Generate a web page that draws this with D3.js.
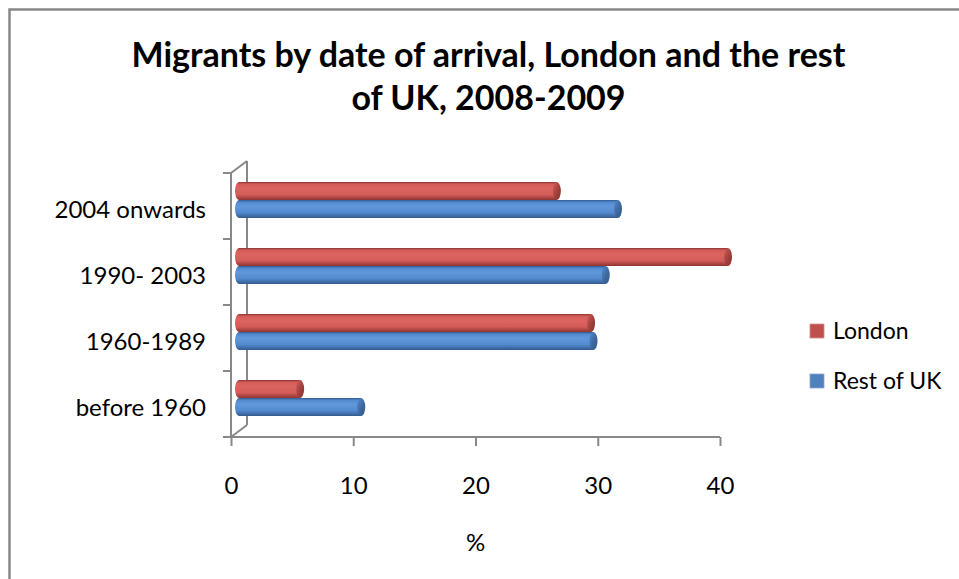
<!DOCTYPE html>
<html>
<head>
<meta charset="utf-8">
<script src="https://cdn.jsdelivr.net/npm/d3@7"></script>
<style>
  html, body { margin: 0; padding: 0; background: #ffffff; }
  svg { display: block; }
  text { font-family: Lato, "Open Sans", sans-serif; fill: #000; }
</style>
</head>
<body>
<svg id="chart" width="959" height="579"></svg>
<script>
// ---- data ----
const categories = ["2004 onwards", "1990- 2003", "1960-1989", "before 1960"];
const seriesNames = ["London", "Rest of UK"];
const londonValues = [26, 40, 28.8, 5];
const restOfUKValues = [31, 30, 29, 10];
const xTickValues = [0, 10, 20, 30, 40];
const titleLines = ["Migrants by date of arrival, London and the rest", "of UK, 2008-2009"];
const xAxisTitle = "%";

// ---- layout ----
const W = 959, H = 579;
const plotLeft = 231, plotRight = 720, plotTop = 173, plotBottom = 437;
const depthX = 16, depthY = -12;
const barH = 18;
const axisColor = "#888888";

const palette = {
  "London": { light: "#dc6562", mid: "#d35c59", dark: "#8e3533", cap: "#9c3d3a" },
  "Rest of UK": { light: "#6298db", mid: "#5389cf", dark: "#335a8d", cap: "#3c6599" }
};

const svg = d3.select("#chart");
svg.append("rect").attr("width", W).attr("height", H).attr("fill", "#fff");
// outer chart border (right/bottom off-canvas)
svg.append("rect")
  .attr("x", 9.5).attr("y", 9.5).attr("width", W + 20).attr("height", H + 20)
  .attr("fill", "none").attr("stroke", "#888").attr("stroke-width", 2.5);

const defs = svg.append("defs");
seriesNames.forEach((s, i) => {
  const c = palette[s];
  const g = defs.append("linearGradient").attr("id", "body" + i)
    .attr("x1", 0).attr("y1", 0).attr("x2", 0).attr("y2", 1);
  g.append("stop").attr("offset", "0%").attr("stop-color", c.dark);
  g.append("stop").attr("offset", "12%").attr("stop-color", c.mid);
  g.append("stop").attr("offset", "35%").attr("stop-color", c.light);
  g.append("stop").attr("offset", "70%").attr("stop-color", c.mid);
  g.append("stop").attr("offset", "100%").attr("stop-color", c.dark);
  const cg = defs.append("linearGradient").attr("id", "cap" + i)
    .attr("x1", 0).attr("y1", 0).attr("x2", 1).attr("y2", 1);
  cg.append("stop").attr("offset", "0%").attr("stop-color", c.mid);
  cg.append("stop").attr("offset", "60%").attr("stop-color", c.cap);
  cg.append("stop").attr("offset", "100%").attr("stop-color", c.dark);
});

// ---- scales ----
const x = d3.scaleLinear().domain([0, 40]).range([plotLeft, plotRight]);
const y = d3.scaleBand().domain(categories).range([plotTop, plotBottom]).paddingInner(0).paddingOuter(0);
const ySeries = d3.scaleBand().domain(seriesNames).range([-barH, barH]);

// ---- title ----
const title = svg.append("g");
titleLines.forEach((t, i) => {
  title.append("text")
    .attr("x", 488.5).attr("y", 67 + i * 43)
    .attr("text-anchor", "middle")
    .attr("font-weight", 700)
    .attr("font-size", 34)
    .text(t);
});

// ---- walls / axes lines ----
const walls = svg.append("g").attr("stroke", axisColor).attr("stroke-width", 2).attr("fill", "none");
// back vertical line
walls.append("line").attr("x1", plotLeft + depthX).attr("y1", plotTop + depthY)
  .attr("x2", plotLeft + depthX).attr("y2", plotBottom + depthY);
// top diagonal
walls.append("line").attr("x1", plotLeft).attr("y1", plotTop)
  .attr("x2", plotLeft + depthX).attr("y2", plotTop + depthY);
// bottom diagonal
walls.append("line").attr("x1", plotLeft).attr("y1", plotBottom)
  .attr("x2", plotLeft + depthX).attr("y2", plotBottom + depthY);
// front vertical axis
walls.append("line").attr("x1", plotLeft).attr("y1", plotTop)
  .attr("x2", plotLeft).attr("y2", plotBottom);
// category boundary ticks
const boundaries = categories.map(c => y(c)).concat([plotBottom]);
walls.selectAll("line.ytick").data(boundaries).join("line")
  .attr("class", "ytick")
  .attr("x1", plotLeft - 8).attr("x2", plotLeft)
  .attr("y1", d => d).attr("y2", d => d);

// ---- x axis ----
const xAxis = d3.axisBottom(x).tickValues(xTickValues).tickSize(9).tickSizeOuter(0).tickFormat(d3.format("d"));
const gx = svg.append("g").attr("transform", `translate(0,${plotBottom})`).call(xAxis);
gx.select(".domain").attr("stroke", axisColor).attr("stroke-width", 2)
  .attr("d", `M${plotLeft - 8},0H${plotRight}`);
gx.selectAll(".tick line").attr("stroke", axisColor).attr("stroke-width", 2);
gx.selectAll(".tick text").attr("y", 57).attr("dy", 0)
  .attr("font-size", 24).attr("font-family", "Lato, sans-serif").attr("fill", "#000");

svg.append("text").attr("x", (x(0) + x(40)) / 2).attr("y", 551)
  .attr("text-anchor", "middle").attr("font-size", 24).text(xAxisTitle);

// ---- category labels ----
const yAxis = d3.axisLeft(y).tickSize(0).tickPadding(0);
const gy = svg.append("g").attr("transform", `translate(206,4)`).call(yAxis);
gy.select(".domain").remove();
gy.selectAll(".tick text").attr("font-size", 24).attr("font-family", "Lato, sans-serif")
  .attr("fill", "#000").attr("dy", "0.32em");

// ---- bars (cylinders at mid depth) ----
const midX = depthX / 2, midY = depthY / 2;
const rows = [];
categories.forEach((c, ci) => {
  [londonValues[ci], restOfUKValues[ci]].forEach((v, si) => {
    rows.push({ cat: c, series: seriesNames[si], si, value: v });
  });
});
const capRx = 4;
const bars = svg.append("g").selectAll("g.bar").data(rows).join("g").attr("class", "bar")
  .attr("transform", d => `translate(0,${y(d.cat) + y.bandwidth() / 2 + midY + ySeries(d.series)})`);
bars.each(function(d) {
  const g = d3.select(this);
  const x0 = x(0) + midX, x1 = x(d.value) + midX;
  g.append("rect").attr("x", x0).attr("y", 0).attr("width", x1 - x0).attr("height", barH)
    .attr("fill", `url(#body${d.si})`);
  g.append("ellipse").attr("cx", x0).attr("cy", barH / 2).attr("rx", capRx).attr("ry", barH / 2)
    .attr("fill", `url(#body${d.si})`);
  g.append("ellipse").attr("cx", x1).attr("cy", barH / 2).attr("rx", capRx).attr("ry", barH / 2)
    .attr("fill", `url(#cap${d.si})`);
});

// ---- legend ----
const legend = svg.append("g").selectAll("g").data(seriesNames).join("g")
  .attr("transform", (d, i) => `translate(810,${324 + i * 50})`);
legend.append("rect").attr("width", 14).attr("height", 14)
  .attr("fill", d => d === "London" ? "#c0504d" : "#4f81bd")
  .attr("stroke", d => d === "London" ? "#d88a88" : "#8aa9d3").attr("stroke-width", 0.8);
legend.append("text").attr("x", 23).attr("y", 7).attr("dy", "0.36em")
  .attr("font-size", 23).text(d => d);
</script>
</body>
</html>
